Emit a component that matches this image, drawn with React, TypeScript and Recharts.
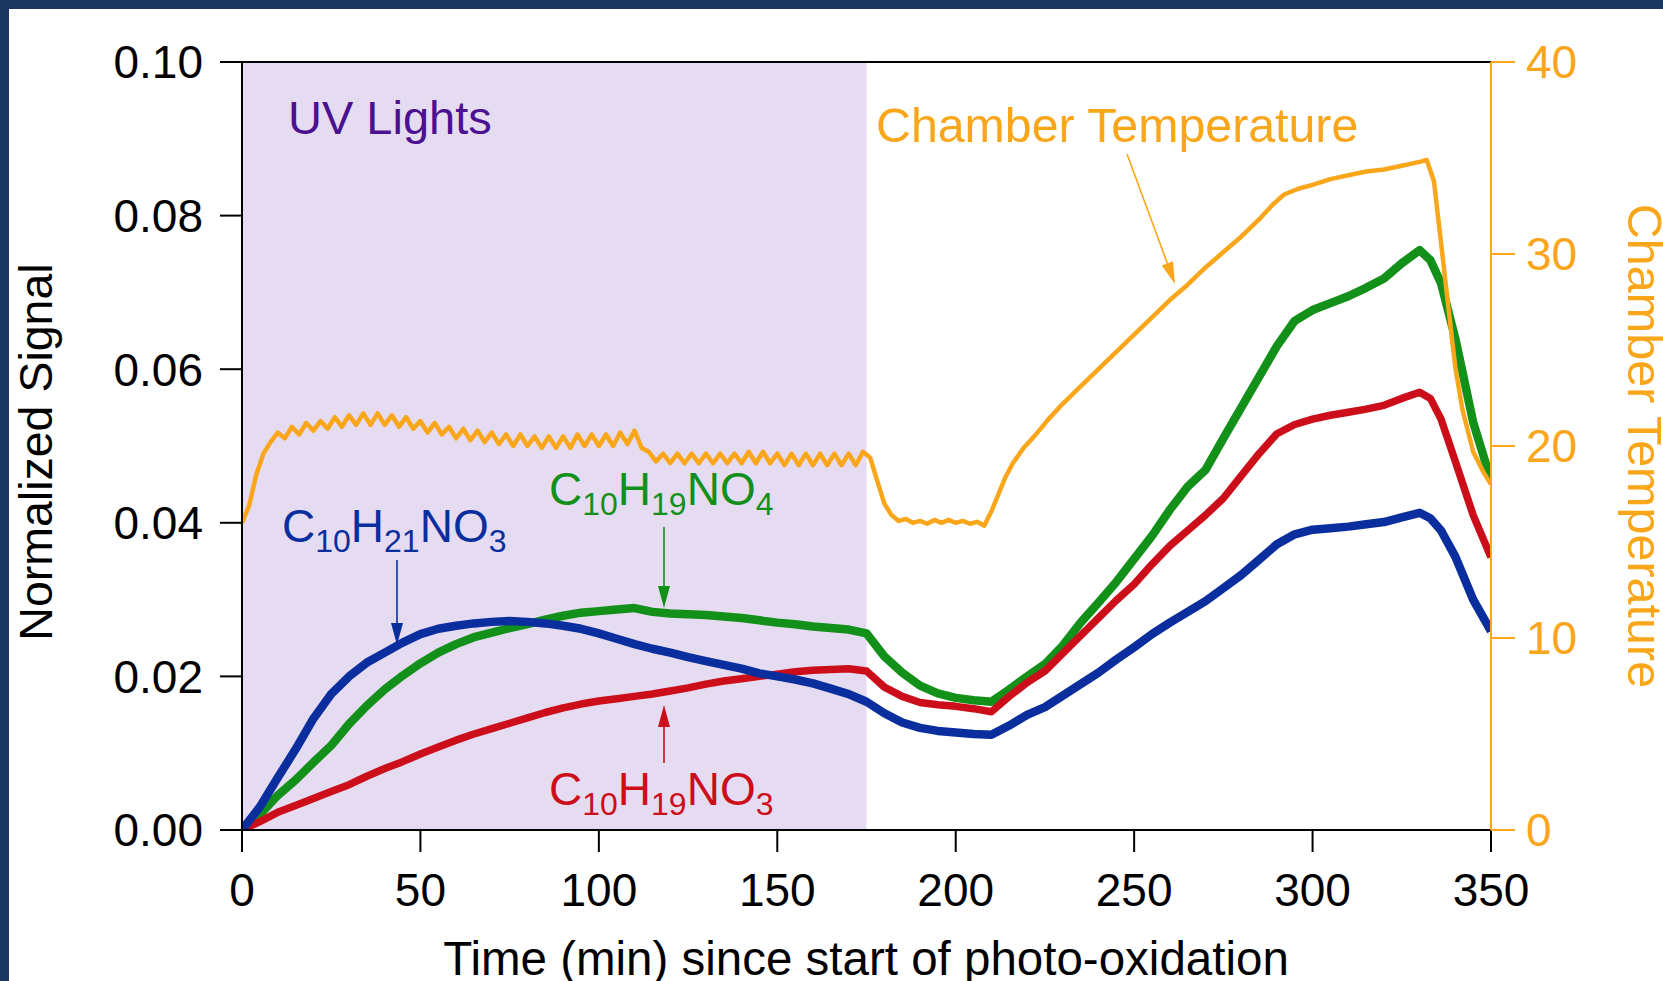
import React from "react";
import { LineChart, Line, XAxis, YAxis, ReferenceArea, ReferenceLine } from "recharts";

const W = 1663;
const H = 981;
const FONT = '"Liberation Sans", Arial, Helvetica, sans-serif';

const NAVY = "#1B375F";
const LAVENDER = "#E6DCF2";
const ORANGE = "#F9A61B";
const BLUE = "#0B2E9E";
const GREEN = "#12901A";
const RED = "#CC0E1A";
const PURPLE = "#4B1190";

// axis ticks
const xTicks = [0, 50, 100, 150, 200, 250, 300, 350];
const sigTicks = [0, 0.02, 0.04, 0.06, 0.08, 0.1];
const tempTicks = [0, 10, 20, 30, 40];

// UV lights on between these times (min)
const uvWindow = [0, 175];

// signal traces
const sigTime = [
  0, 5, 10, 15, 20, 25, 30, 35, 40, 45,
  50, 55, 60, 65, 70, 75, 80, 85, 90, 95,
  100, 105, 110, 115, 120, 125, 130, 135, 140, 145,
  150, 155, 160, 165, 170, 175, 180, 185, 190, 195,
  200, 205, 210, 215, 220, 225, 230, 235, 240, 245,
  250, 255, 260, 265, 270, 275, 280, 285, 290, 295,
  300, 305, 310, 315, 320, 325, 330, 333, 336, 340,
  345, 350,
];

const c10h21no3 = [
  0, 0.003, 0.0068, 0.0105, 0.0145, 0.0177, 0.02, 0.0218, 0.0231, 0.0244,
  0.0255, 0.0262, 0.0266, 0.0269, 0.0271, 0.0272, 0.0271, 0.0269, 0.0266, 0.0262,
  0.0256, 0.0249, 0.0242, 0.0236, 0.0231, 0.0225, 0.022, 0.0215, 0.021, 0.0204,
  0.02, 0.0196, 0.0191, 0.0184, 0.0177, 0.0167, 0.0152, 0.014, 0.0133, 0.0129,
  0.0127, 0.0125, 0.0124, 0.0136, 0.015, 0.016, 0.0175, 0.019, 0.0205, 0.0222,
  0.0238, 0.0255, 0.027, 0.0284, 0.0298, 0.0315, 0.0332, 0.0352, 0.0372, 0.0385,
  0.0391, 0.0393, 0.0395, 0.0398, 0.0401, 0.0407, 0.0413, 0.0406, 0.039, 0.0356,
  0.03, 0.0259,
];

const c10h19no4 = [
  0, 0.002, 0.0045, 0.0065, 0.0088, 0.011, 0.0138, 0.0162, 0.0183, 0.0201,
  0.0217, 0.0231, 0.0242, 0.0251, 0.0257, 0.0263, 0.0268, 0.0274, 0.0279, 0.0283,
  0.0285, 0.0287, 0.0289, 0.0284, 0.0282, 0.0281, 0.028, 0.0278, 0.0276, 0.0273,
  0.027, 0.0268, 0.0265, 0.0263, 0.0261, 0.0256, 0.0226, 0.0205, 0.0188, 0.0178,
  0.0172, 0.0169, 0.0167, 0.0183, 0.02, 0.0216, 0.024, 0.027, 0.0296, 0.0323,
  0.0353, 0.0383, 0.0417, 0.0447, 0.0469, 0.051, 0.055, 0.059, 0.063, 0.0663,
  0.0677, 0.0686, 0.0695, 0.0706, 0.0718, 0.0738, 0.0755, 0.0742, 0.0712, 0.064,
  0.0531, 0.0455,
];

const c10h19no3 = [
  0, 0.0011, 0.0023, 0.0032, 0.0041, 0.005, 0.0059, 0.007, 0.008, 0.0089,
  0.0099, 0.0108, 0.0117, 0.0125, 0.0132, 0.0139, 0.0146, 0.0153, 0.0159, 0.0164,
  0.0168, 0.0171, 0.0174, 0.0177, 0.0181, 0.0185, 0.019, 0.0194, 0.0197, 0.02,
  0.0203, 0.0206, 0.0208, 0.0209, 0.021, 0.0207, 0.0186, 0.0174, 0.0166, 0.0163,
  0.0161, 0.0158, 0.0154, 0.0174, 0.0192, 0.0207, 0.023, 0.0253, 0.0276, 0.0299,
  0.032, 0.0346, 0.037, 0.039, 0.041, 0.0432, 0.0461, 0.049, 0.0516, 0.0528,
  0.0535, 0.054, 0.0544, 0.0548, 0.0553, 0.0562, 0.057, 0.0562, 0.0535, 0.048,
  0.041, 0.0355,
];

// chamber temperature (deg C), finer spacing to keep the thermostat ripple
const tempTime = [
  0, 2, 4, 6, 8, 10, 12, 14, 16, 18,
  20, 22, 24, 26, 28, 30, 32, 34, 36, 38,
  40, 42, 44, 46, 48, 50, 52, 54, 56, 58,
  60, 62, 64, 66, 68, 70, 72, 74, 76, 78,
  80, 82, 84, 86, 88, 90, 92, 94, 96, 98,
  100, 102, 104, 106, 108, 110, 112, 114, 116, 118,
  120, 122, 124, 126, 128, 130, 132, 134, 136, 138,
  140, 142, 144, 146, 148, 150, 152, 154, 156, 158,
  160, 162, 164, 166, 168, 170, 172, 174, 176, 178,
  180, 182, 184, 186, 188, 190, 192, 194, 196, 198,
  200, 202, 204, 206, 208, 210, 212, 214, 216, 219,
  222, 226, 230, 235, 240, 245, 250, 255, 260, 265,
  270, 275, 280, 285, 289, 292, 296, 300, 305, 310,
  315, 320, 325, 330, 332, 334, 336, 338, 340, 342,
  345, 348, 350,
];

const chamberTemp = [
  16.0, 16.9, 18.5, 19.6, 20.2, 20.7, 20.4, 21.0, 20.6, 21.2,
  20.8, 21.3, 20.9, 21.5, 21.0, 21.6, 21.1, 21.7, 21.1, 21.7,
  21.1, 21.6, 21.0, 21.5, 20.9, 21.3, 20.7, 21.2, 20.6, 21.0,
  20.4, 20.9, 20.3, 20.8, 20.2, 20.7, 20.1, 20.6, 20.0, 20.6,
  20.0, 20.5, 19.9, 20.5, 19.9, 20.5, 19.9, 20.6, 20.0, 20.6,
  20.0, 20.6, 20.0, 20.7, 20.1, 20.8, 19.9, 19.7, 19.2, 19.6,
  19.1, 19.6, 19.1, 19.6, 19.1, 19.6, 19.1, 19.6, 19.1, 19.6,
  19.1, 19.7, 19.1, 19.7, 19.1, 19.6, 19.0, 19.6, 19.0, 19.6,
  19.0, 19.6, 19.0, 19.6, 19.0, 19.6, 19.0, 19.7, 19.4, 18.2,
  17.0, 16.4, 16.1, 16.2, 16.0, 16.1, 15.95, 16.15, 16.0, 16.15,
  16.0, 16.1, 15.95, 16.05, 15.85, 16.6, 17.5, 18.4, 19.1, 19.9,
  20.5, 21.4, 22.2, 23.1, 24.0, 24.9, 25.8, 26.7, 27.6, 28.4,
  29.3, 30.1, 30.9, 31.8, 32.6, 33.1, 33.4, 33.6, 33.9, 34.1,
  34.3, 34.4, 34.6, 34.8, 34.9, 33.8, 30.6, 27.3, 24.1, 21.9,
  19.7, 18.6, 18.0,
];

const toPoints = (xs: number[], ys: number[]) => xs.map((t, i) => ({ t, v: ys[i] }));

const blueData = toPoints(sigTime, c10h21no3);
const greenData = toPoints(sigTime, c10h19no4);
const redData = toPoints(sigTime, c10h19no3);
const tempData = toPoints(tempTime, chamberTemp);

type ArrowProps = { x1: number; y1: number; x2: number; y2: number; color: string };

function Arrow({ x1, y1, x2, y2, color }: ArrowProps) {
  const dx = x2 - x1;
  const dy = y2 - y1;
  const len = Math.hypot(dx, dy);
  const ux = dx / len;
  const uy = dy / len;
  const headLen = 22;
  const half = 6;
  const bx = x2 - ux * headLen;
  const by = y2 - uy * headLen;
  const pts = `${x2},${y2} ${bx - uy * half},${by + ux * half} ${bx + uy * half},${by - ux * half}`;
  return (
    <g>
      <line x1={x1} y1={y1} x2={bx} y2={by} stroke={color} strokeWidth={1.6} />
      <polygon points={pts} fill={color} />
    </g>
  );
}

// chemical formula with subscripted digits
function Formula({ x, y, color, text }: { x: number; y: number; color: string; text: string }) {
  const parts = text.match(/\d+|\D+/g) ?? [];
  let shift = 0;
  return (
    <text x={x} y={y} fill={color} fontFamily={FONT} fontSize={46}>
      {parts.map((p, i) => {
        const sub = /\d/.test(p);
        const target = sub ? 10 : 0;
        const d = target - shift;
        shift = target;
        return (
          <tspan key={i} dy={d} fontSize={sub ? 32 : 46}>
            {p}
          </tspan>
        );
      })}
    </text>
  );
}

export default function App() {
  return (
    <div style={{ position: "fixed", left: 0, top: 0, width: W, height: H, background: "#fff", overflow: "hidden" }}>
      <style>{"html,body{margin:0;padding:0;background:#fff;overflow:hidden}"}</style>
      <div style={{ position: "absolute", left: 0, top: 0, width: W, height: 9, background: NAVY }} />
      <div style={{ position: "absolute", left: 0, top: 0, width: 9, height: H, background: NAVY }} />

      <div style={{ position: "absolute", left: 0, top: 0 }}>
        <LineChart width={W} height={H} margin={{ top: 62, right: 0, bottom: 0, left: 0 }}>
          <XAxis
            type="number"
            dataKey="t"
            domain={[0, 350]}
            ticks={xTicks}
            interval={0}
            height={151}
            tickSize={22}
            tickMargin={21}
            tick={{ fontSize: 46, fill: "#000", fontFamily: FONT }}
            axisLine={{ stroke: "#000", strokeWidth: 2 }}
            tickLine={{ stroke: "#000", strokeWidth: 2 }}
            allowDataOverflow
          />
          <YAxis
            yAxisId="sig"
            domain={[0, 0.1]}
            ticks={sigTicks}
            interval={0}
            width={242}
            tickSize={22}
            tickMargin={17}
            tickFormatter={(v: number) => v.toFixed(2)}
            tick={{ fontSize: 46, fill: "#000", fontFamily: FONT }}
            axisLine={{ stroke: "#000", strokeWidth: 2 }}
            tickLine={{ stroke: "#000", strokeWidth: 2 }}
            allowDataOverflow
          />
          <YAxis
            yAxisId="temp"
            orientation="right"
            domain={[0, 40]}
            ticks={tempTicks}
            interval={0}
            width={172}
            tickSize={24}
            tickMargin={11}
            tick={{ fontSize: 46, fill: ORANGE, fontFamily: FONT }}
            axisLine={{ stroke: ORANGE, strokeWidth: 2 }}
            tickLine={{ stroke: ORANGE, strokeWidth: 2 }}
            allowDataOverflow
          />
          <ReferenceArea
            yAxisId="sig"
            x1={uvWindow[0]}
            x2={uvWindow[1]}
            y1={0}
            y2={0.1}
            fill={LAVENDER}
            fillOpacity={1}
            stroke="none"
          />
          <ReferenceLine yAxisId="sig" y={0.1} stroke="#000" strokeWidth={2} />
          <Line yAxisId="sig" data={greenData} dataKey="v" type="linear" stroke={GREEN} strokeWidth={8.5}
            strokeLinejoin="round" dot={false} activeDot={false} isAnimationActive={false} />
          <Line yAxisId="sig" data={redData} dataKey="v" type="linear" stroke={RED} strokeWidth={7.5}
            strokeLinejoin="round" dot={false} activeDot={false} isAnimationActive={false} />
          <Line yAxisId="sig" data={blueData} dataKey="v" type="linear" stroke={BLUE} strokeWidth={8.5}
            strokeLinejoin="round" dot={false} activeDot={false} isAnimationActive={false} />
          <Line yAxisId="temp" data={tempData} dataKey="v" type="linear" stroke={ORANGE} strokeWidth={4.5}
            strokeLinejoin="round" dot={false} activeDot={false} isAnimationActive={false} />
        </LineChart>
      </div>

      <svg width={W} height={H} style={{ position: "absolute", left: 0, top: 0, pointerEvents: "none" }}>
        <text x={288} y={134} fill={PURPLE} fontFamily={FONT} fontSize={47}>UV Lights</text>
        <text x={876} y={142} fill={ORANGE} fontFamily={FONT} fontSize={48.3}>Chamber Temperature</text>
        <Arrow x1={1127} y1={154} x2={1175} y2={284} color={ORANGE} />

        <Formula x={282} y={542} color={BLUE} text="C10H21NO3" />
        <Arrow x1={397} y1={560} x2={397} y2={645} color={BLUE} />

        <Formula x={549} y={505} color={GREEN} text="C10H19NO4" />
        <Arrow x1={664} y1={527} x2={664} y2={608} color={GREEN} />

        <Formula x={549} y={805} color={RED} text="C10H19NO3" />
        <Arrow x1={664} y1={763} x2={664} y2={705} color={RED} />

        <text transform="translate(52,452) rotate(-90)" textAnchor="middle" fill="#000" fontFamily={FONT} fontSize={46.5}>
          Normalized Signal
        </text>
        <text transform="translate(1628,446) rotate(90)" textAnchor="middle" fill={ORANGE} fontFamily={FONT} fontSize={48.5}>
          Chamber Temperature
        </text>
        <text x={866} y={975} textAnchor="middle" fill="#000" fontFamily={FONT} fontSize={47.5}>
          Time (min) since start of photo-oxidation
        </text>
      </svg>
    </div>
  );
}
